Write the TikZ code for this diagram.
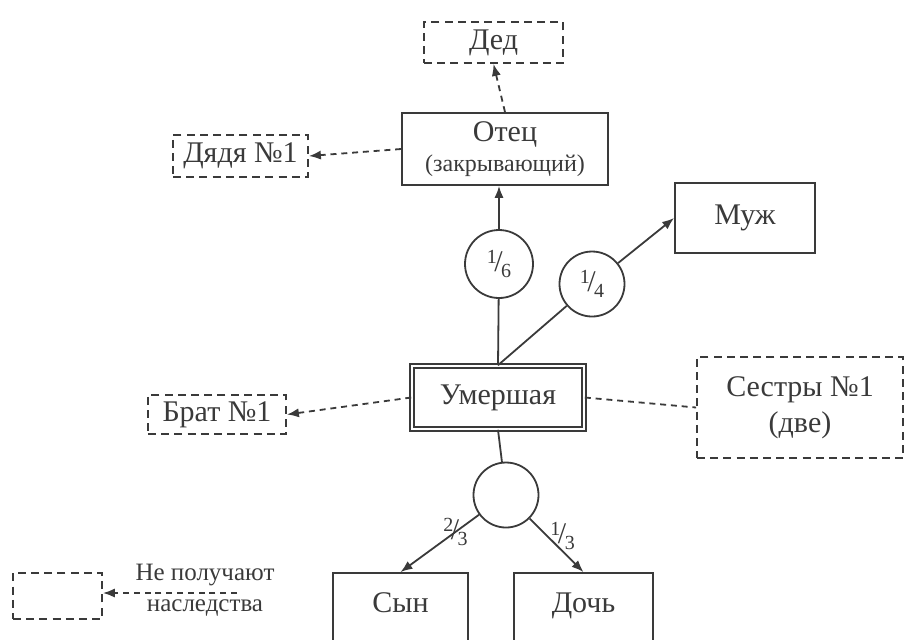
\documentclass[tikz,border=0pt]{standalone}
\usepackage{fontspec}
\setmainfont{Liberation Serif}
\usetikzlibrary{arrows.meta}
\definecolor{inkgray}{HTML}{3A3A3A}
\newcommand{\dolya}[2]{\raisebox{0.55ex}{\fontsize{10}{10}\selectfont #1}\kern-0.08em/\kern-0.05em\raisebox{-0.45ex}{\fontsize{10}{10}\selectfont #2}}

\begin{document}
\begin{tikzpicture}[
 x=0.5pt,y=-0.5pt,
 color=inkgray,
 line width=0.9pt,
 every node/.style={font=\fontsize{15}{18}\selectfont},
 box/.style={draw,rectangle,inner sep=0pt,align=center},
 lost/.style={box,dash pattern=on 4pt off 2.6pt},
 dline/.style={dash pattern=on 3pt off 2.4pt},
 share/.style={draw,circle,inner sep=0pt,minimum size=32.5pt},
 arr/.style={-{Latex[length=6pt,width=4.6pt]}}]
\useasboundingbox (0,0) rectangle (904,639);
\clip (0,0) rectangle (904,639);
\node[lost,minimum width=69.5pt,minimum height=20.5pt] (ded) at (493.5,42.5) {Дед};
\node[box,minimum width=103pt,minimum height=36pt] (otec) at (505,149) {Отец\\[-3pt]{\fontsize{12}{14}\selectfont(закрывающий)}};
\node[lost,minimum width=67.5pt,minimum height=21pt] (dyadya) at (240.5,156) {Дядя №1};
\node[box,minimum width=70pt,minimum height=35pt] (muzh) at (745,218) {Муж};
\node[share,minimum size=34pt] (c16) at (499,264) {\dolya{1}{6}};
\node[share] (c14) at (592,284) {\dolya{1}{4}};
\node[box,double,double distance=1.3pt,line width=0.8pt,minimum width=86pt,minimum height=31.5pt] (umer) at (498,397.5) {Умершая};
\node[lost,minimum width=69pt,minimum height=19.5pt] (brat) at (217,414.5) {Брат №1};
\node[lost,minimum width=103pt,minimum height=50.5pt] (sestry) at (800,407.5) {Сестры №1\\(две)};
\node[share] (deti) at (506,495) {};
\node[box,minimum width=67.5pt,minimum height=35pt,text depth=5pt] (syn) at (400.5,608) {Сын};
\node[box,minimum width=69.5pt,minimum height=35pt,text depth=5pt] (doch) at (583.5,608) {Дочь};
\node[lost,minimum width=44.5pt,minimum height=23pt] (legend) at (57.5,596) {};
\node[align=center,font=\fontsize{12.5}{15.5}\selectfont] (legtext) at (205,590) {Не получают\\наследства};
\coordinate (legfrom) at (237,593);

\draw[arr,dline] (otec.north) -- (ded.south);
\draw[arr,dline] (otec.west) -- (dyadya.east);
\draw (umer.north) -- (c16);
\draw[arr] (c16) -- (c16 |- otec.south);
\draw (umer.north) -- (c14);
\draw[arr] (c14) -- (muzh.west);
\draw[arr,dline] (umer.west) -- (brat.east);
\draw[dline] (umer.east) -- (sestry.west);
\draw (umer.south) -- (deti);
\draw[arr] (deti) -- node[pos=0.3,inner sep=0pt] {\dolya{2}{3}} (syn.north);
\draw[arr] (deti) -- node[pos=0.33,right,inner sep=1pt] {\dolya{1}{3}} (doch.north);
\draw[arr,dline] (legfrom) -- (legfrom -| legend.east);
\end{tikzpicture}
\end{document}
